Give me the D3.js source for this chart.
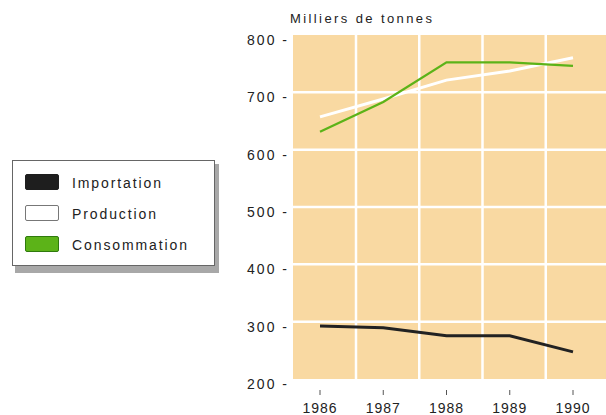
<!DOCTYPE html>
<html>
<head>
<meta charset="utf-8">
<script src="https://cdn.jsdelivr.net/npm/d3@7/dist/d3.min.js"></script>
<style>
  body { margin: 0; background: #fff; }
  text { font-family: "Liberation Sans", Arial, sans-serif; fill: #222; }
</style>
</head>
<body>
<div id="chart"></div>
<script>
"use strict";
// values, thousands of tonnes
var years = [1986, 1987, 1988, 1989, 1990];
var importation = [301, 298, 284, 284, 256];
var production = [666, 697, 730, 746, 769];
var consommation = [640, 692, 761, 761, 755];
var yTicks = [200, 300, 400, 500, 600, 700, 800];
var seriesNames = ["Importation", "Production", "Consommation"];
var seriesColors = ["#1e1e1e", "#ffffff", "#5cb318"];

var w = 606, h = 415;

var svg = d3.select("#chart").append("svg")
  .attr("width", w)
  .attr("height", h);

var x = d3.scaleLinear().domain([1986, 1990]).range([320, 573]);
var y = d3.scaleLinear().domain([200, 800]).range([384, 40]);

//plot background, grid sits a bit above the tick marks
var plotTop = 35, plotBottom = 379, plotLeft = 293;
svg.append("rect")
  .attr("x", plotLeft).attr("y", plotTop)
  .attr("width", w - plotLeft).attr("height", plotBottom - plotTop)
  .attr("fill", "#f9d9a2");

svg.append("g").selectAll("line")
  .data(yTicks.filter(function(d) { return d > 200 && d < 800; }))
  .join("line")
  .attr("x1", plotLeft).attr("x2", w)
  .attr("y1", function(d) { return y(d) - 5; })
  .attr("y2", function(d) { return y(d) - 5; })
  .attr("stroke", "#fff").attr("stroke-width", 2.5);

svg.append("g").selectAll("line")
  .data(years.slice(0, 4))
  .join("line")
  .attr("x1", function(d) { return x(d) + 36; })
  .attr("x2", function(d) { return x(d) + 36; })
  .attr("y1", plotTop).attr("y2", plotBottom)
  .attr("stroke", "#fff").attr("stroke-width", 2.5);

//y axis labels with dash
svg.append("g").selectAll("text")
  .data(yTicks)
  .join("text")
  .attr("x", 289)
  .attr("y", function(d) { return y(d) + 5; })
  .attr("text-anchor", "end")
  .attr("font-size", 14)
  .attr("letter-spacing", 2)
  .text(function(d) { return d + " -"; });

svg.append("text")
  .attr("x", 290).attr("y", 23)
  .attr("font-size", 13)
  .attr("letter-spacing", 2.4)
  .text("Milliers de tonnes");

//x axis small ticks and years
svg.append("g").selectAll("line")
  .data(years)
  .join("line")
  .attr("x1", function(d) { return x(d); })
  .attr("x2", function(d) { return x(d); })
  .attr("y1", 390).attr("y2", 395)
  .attr("stroke", "#555").attr("stroke-width", 1);

svg.append("g").selectAll("text")
  .data(years)
  .join("text")
  .attr("x", function(d) { return x(d); })
  .attr("y", 413)
  .attr("text-anchor", "middle")
  .attr("font-size", 14)
  .attr("letter-spacing", 1)
  .text(function(d) { return d; });

//lines
var line = d3.line()
  .x(function(d, i) { return x(years[i]); })
  .y(function(d) { return y(d); });

[production, consommation, importation].forEach(function(s) {
  var idx = s === importation ? 0 : s === production ? 1 : 2;
  svg.append("path")
    .datum(s)
    .attr("d", line)
    .attr("fill", "none")
    .attr("stroke", idx === 0 ? "#222" : seriesColors[idx])
    .attr("stroke-width", idx === 2 ? 2.3 : 3);
});

//legend
var lg = svg.append("g");
lg.append("rect")
  .attr("x", 15).attr("y", 164).attr("width", 204).attr("height", 109)
  .attr("fill", "#a8a8a8");
lg.append("rect")
  .attr("x", 12.5).attr("y", 160.5).attr("width", 202).attr("height", 105)
  .attr("fill", "#fff").attr("stroke", "#666").attr("stroke-width", 1);

var items = lg.selectAll(".item")
  .data(seriesNames)
  .join("g")
  .attr("transform", function(d, i) { return "translate(0," + (174 + i * 31) + ")"; });

items.append("rect")
  .attr("x", 25.5).attr("y", 0.5).attr("width", 33).attr("height", 15)
  .attr("rx", 1.5)
  .attr("fill", function(d, i) { return seriesColors[i]; })
  .attr("stroke", function(d, i) { return i === 0 ? "#1e1e1e" : i === 1 ? "#777" : "#2f7a0d"; })
  .attr("stroke-width", 1);

items.append("text")
  .attr("x", 72).attr("y", 14)
  .attr("font-size", 14)
  .attr("letter-spacing", 1.9)
  .text(function(d) { return d; });
</script>
</body>
</html>
